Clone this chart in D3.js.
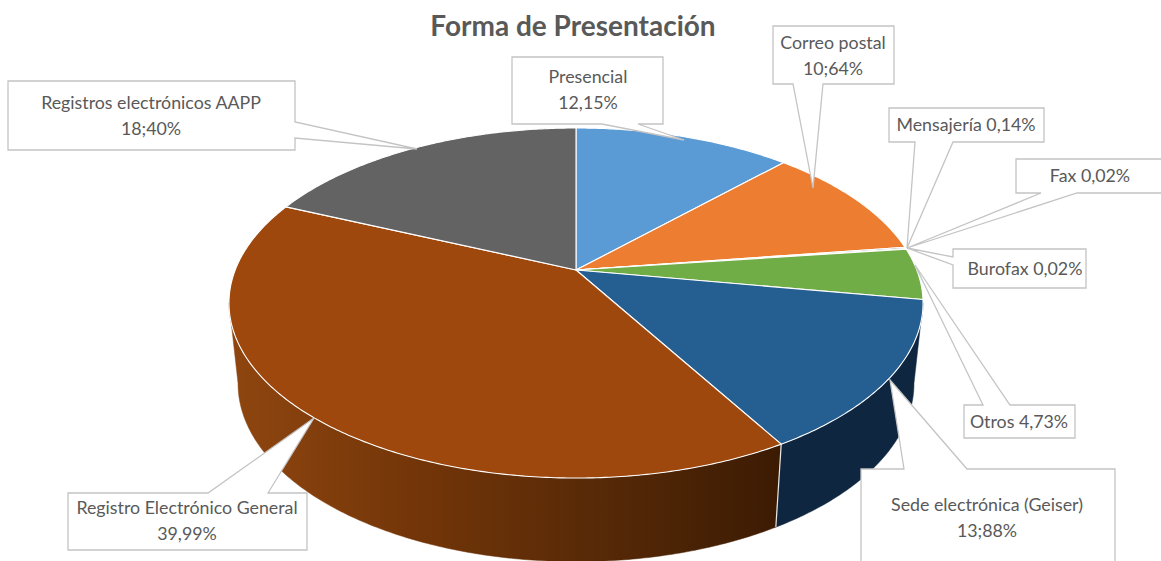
<!DOCTYPE html>
<html lang="es">
<head>
<meta charset="utf-8">
<title>Forma de Presentación</title>
<script src="https://cdn.jsdelivr.net/npm/d3@7"></script>
<style>
html,body{margin:0;padding:0;background:#fff;overflow:hidden}
svg{display:block}
text{font-family:Lato,"Open Sans",sans-serif;fill:#595959}
</style>
</head>
<body>
<svg id="chart" width="1161" height="561"></svg>
<script>
const chartTitle = "Forma de Presentación";
const categories = ["Presencial","Correo postal","Mensajería","Fax","Burofax","Otros","Sede electrónica (Geiser)","Registro Electrónico General","Registros electrónicos AAPP"];
const values = [12.15,10.64,0.14,0.02,0.02,4.73,13.88,39.99,18.40];
const labelLines = [
  ["Presencial","12,15%"],
  ["Correo postal","10;64%"],
  ["Mensajería 0,14%"],
  ["Fax 0,02%"],
  ["Burofax 0,02%"],
  ["Otros 4,73%"],
  ["Sede electrónica (Geiser)","13;88%"],
  ["Registro Electrónico General","39,99%"],
  ["Registros electrónicos AAPP","18;40%"]
];
const topColors = ["#5b9bd5","#ed7d31","#a5a5a5","#ffc000","#4472c4","#70ad47","#255e91","#9e480e","#636363"];

// Callout layout: box, wedge base on one side, wedge tip, text centre and first baseline
const callouts = [
  {x0:512,x1:663,y0:57,y1:124,side:"b",a:602,b:638,tip:[684,140],tx:588,ty:83},
  {x0:773,x1:894,y0:26,y1:84,side:"b",a:793,b:823,tip:[813,188],tx:833,ty:49},
  {x0:889,x1:1044,y0:108,y1:142,side:"b",a:915,b:953,tip:[907,248],tx:966,ty:131},
  {x0:1016,x1:1175,y0:159,y1:193,side:"b",a:1041,b:1077,tip:[907,248],tx:1090,ty:182},
  {x0:953,x1:1086,y0:249,y1:288,side:"l",a:257,b:265,tip:[907,248],tx:1025,ty:275},
  {x0:964,x1:1075,y0:405,y1:438,side:"t",a:983,b:1010,tip:[915,265],tx:1019,ty:428},
  {x0:861,x1:1115,y0:469,y1:590,side:"t",a:904,b:967,tip:[890,380],tx:987,ty:511},
  {x0:68,x1:307,y0:493,y1:550,side:"t",a:208,b:268,tip:[314,418],tx:187,ty:514},
  {x0:8,x1:295,y0:81,y1:150,side:"r",a:122,b:138,tip:[417,149],tx:151,ty:109}
];

const svg = d3.select("#chart");
const defs = svg.append("defs");
const grad = defs.append("linearGradient").attr("id","wallBrown")
  .attr("gradientUnits","userSpaceOnUse").attr("x1",230).attr("x2",780).attr("y1",0).attr("y2",0);
[[0,"#8f4610"],[0.35,"#723508"],[0.68,"#562907"],[1,"#3c1b03"]].forEach(s =>
  grad.append("stop").attr("offset",s[0]).attr("stop-color",s[1]));
const wallFill = ["#5b9bd5","#ed7d31","#a5a5a5","#ffc000","#4472c4","#43692a","#0f2640","url(#wallBrown)","#3b3b3b"];

// Perspective projection of the unit circle, angle clockwise from 12 o'clock
const persp = 0.1886;
const project = (cx, cy, sx, sy) => t => {
  const x = Math.sin(t), y = -Math.cos(t), d = 1 - persp * y;
  return [cx + sx * x / d, cy + sy * y / d];
};
const topFace = project(576, 270, 340.8, 168.8);
const baseFace = project(576, 350, 331.9, 171.7);
const line = d3.line();
const arcPts = (f, a, b) => {
  const n = Math.max(2, Math.ceil(Math.abs(b - a) / 0.01));
  return d3.range(n + 1).map(i => f(a + (b - a) * i / n));
};

const pie = d3.pie().sort(null).value(d => d).startAngle(0).endAngle(2 * Math.PI);
const arcs = pie(values);

// side walls: the near half, up to where the rim is tangent to the silhouette
const gWall = svg.append("g");
const lo = Math.PI * 0.56, hi = Math.PI * 1.44;
arcs.forEach((d, i) => {
  const a = Math.max(d.startAngle, lo), b = Math.min(d.endAngle, hi);
  if (b <= a) return;
  const pts = arcPts(topFace, a, b).concat(arcPts(baseFace, a, b).reverse());
  gWall.append("path").attr("d", line(pts) + "Z").attr("fill", wallFill[i]).attr("stroke", wallFill[i]).attr("stroke-width", 0.5);
});
// seam between visible wall segments
const seam = arcs[6].endAngle;
gWall.append("line")
  .attr("x1", topFace(seam)[0]).attr("y1", topFace(seam)[1])
  .attr("x2", baseFace(seam)[0]).attr("y2", baseFace(seam)[1])
  .attr("stroke", "#e8e8e8").attr("stroke-width", 1.2);

// top face
const apex = [576, 270];
svg.append("g").selectAll("path").data(arcs).join("path")
  .attr("d", d => line([apex].concat(arcPts(topFace, d.startAngle, d.endAngle))) + "Z")
  .attr("fill", (d, i) => topColors[i])
  .attr("stroke", "#fff").attr("stroke-width", 1.1).attr("stroke-linejoin", "round");

// callouts
const calloutPath = c => {
  const t = c.tip;
  const pts = [[c.x0, c.y0]];
  if (c.side === "t") pts.push([c.a, c.y0], t, [c.b, c.y0]);
  pts.push([c.x1, c.y0]);
  if (c.side === "r") pts.push([c.x1, c.a], t, [c.x1, c.b]);
  pts.push([c.x1, c.y1]);
  if (c.side === "b") pts.push([c.b, c.y1], t, [c.a, c.y1]);
  pts.push([c.x0, c.y1]);
  if (c.side === "l") pts.push([c.x0, c.b], t, [c.x0, c.a]);
  return line(pts) + "Z";
};
const gCall = svg.append("g");
callouts.forEach((c, i) => {
  gCall.append("path").attr("d", calloutPath(c))
    .attr("fill", "#fff").attr("stroke", "#c4c4c4").attr("stroke-width", 1.3).attr("stroke-linejoin", "miter");
  const t = gCall.append("text").attr("text-anchor", "middle").attr("font-size", 17.8);
  labelLines[i].forEach((l, k) => {
    t.append("tspan").attr("x", c.tx).attr("y", c.ty + k * 26).text(l);
  });
});

svg.append("text").attr("x", 573).attr("y", 36).attr("text-anchor", "middle")
  .attr("font-size", 28).attr("font-weight", 700).text(chartTitle);
</script>
</body>
</html>
